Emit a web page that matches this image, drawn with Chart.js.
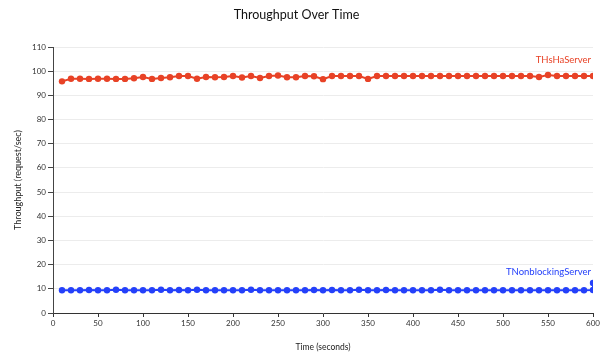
<!DOCTYPE html>
<html>
<head>
<meta charset="utf-8">
<script src="https://cdn.jsdelivr.net/npm/chart.js@4/dist/chart.umd.min.js"></script>
<style>
html,body{margin:0;padding:0;background:#fff;}
#c{display:block;}
</style>
</head>
<body>
<canvas id="c" width="604" height="357"></canvas>
<script>
const times = [10,20,30,40,50,60,70,80,90,100,110,120,130,140,150,160,170,180,190,200,
  210,220,230,240,250,260,270,280,290,300,310,320,330,340,350,360,370,380,390,400,
  410,420,430,440,450,460,470,480,490,500,510,520,530,540,550,560,570,580,590,600];
const hshaValues = [95.8,96.9,96.9,96.8,96.9,96.9,96.8,96.8,97.1,97.6,96.8,97.2,97.5,98.0,98.0,96.9,97.6,97.5,97.6,98.0,
  97.4,98.0,97.2,98.0,98.2,97.5,97.5,98.0,97.9,96.7,98.0,98.0,98.0,98.0,96.8,98.0,98.0,98.0,98.0,98.0,
  98.0,98.0,98.0,98.0,98.0,98.0,98.0,98.0,98.0,98.0,98.0,98.0,98.0,97.6,98.4,98.0,98.0,98.0,98.0,98.0];
const nonblockingTimes = [...times, 600];
const nonblockingValues = [9.4,9.4,9.4,9.5,9.4,9.4,9.6,9.4,9.4,9.4,9.4,9.6,9.4,9.5,9.4,9.6,9.4,9.4,9.4,9.4,
  9.4,9.6,9.4,9.4,9.4,9.4,9.4,9.4,9.5,9.4,9.5,9.4,9.4,9.6,9.4,9.4,9.5,9.4,9.4,9.4,
  9.4,9.4,9.6,9.4,9.4,9.4,9.4,9.4,9.4,9.4,9.4,9.4,9.4,9.4,9.4,9.4,9.4,9.4,9.4,9.5,12.4];
const seriesNames = ['THsHaServer','TNonblockingServer'];
const xTicksMax = 600, xStep = 50, yMax = 110, yStep = 10;

const RED = 'rgb(232,66,38)';
const BLUE = 'rgb(36,64,250)';
const FONT = 'Lato, "Liberation Sans", sans-serif';

const seriesLabelPlugin = {
  id: 'seriesLabel',
  afterDatasetsDraw(chart) {
    const ctx = chart.ctx;
    const area = chart.chartArea;
    const offsets = [-16, -18];
    chart.data.datasets.forEach((ds, i) => {
      const meta = chart.getDatasetMeta(i);
      const p = meta.data[times.length - 1];
      ctx.save();
      ctx.font = '9.5px ' + FONT;
      ctx.fillStyle = ds.borderColor;
      ctx.textAlign = 'right';
      ctx.textBaseline = 'middle';
      ctx.fillText(ds.label, area.right - 2, p.y + offsets[i]);
      ctx.restore();
    });
  }
};

new Chart(document.getElementById('c'), {
  type: 'line',
  data: {
    datasets: [
      {
        label: seriesNames[0],
        data: times.map((t, i) => ({x: t, y: hshaValues[i]})),
        borderColor: RED, backgroundColor: RED,
        borderWidth: 2, pointRadius: 3.2, pointBorderWidth: 0, tension: 0
      },
      {
        label: seriesNames[1],
        data: nonblockingTimes.map((t, i) => ({x: t, y: nonblockingValues[i]})),
        borderColor: BLUE, backgroundColor: BLUE,
        borderWidth: 2, pointRadius: 3.2, pointBorderWidth: 0, tension: 0
      }
    ]
  },
  options: {
    responsive: false,
    animation: false,
    layout: {padding: {left: 0, right: 11, top: 0, bottom: 0}},
    plugins: {
      legend: {display: false},
      tooltip: {enabled: false},
      title: {
        display: true,
        text: 'Throughput Over Time',
        color: '#111',
        font: {family: FONT, size: 12.5, weight: 'normal'},
        padding: {top: 7, bottom: 25}
      }
    },
    scales: {
      x: {
        type: 'linear', min: 0, max: xTicksMax,
        ticks: {stepSize: xStep, color: '#333', font: {family: FONT, size: 8}, padding: 2, maxRotation: 0},
        grid: {drawOnChartArea: false, tickLength: 4, tickColor: '#333'},
        border: {color: '#333', width: 1},
        title: {display: true, text: 'Time (seconds)', color: '#222', font: {family: FONT, size: 8.5}, padding: {top: 4, bottom: 5}},
        afterFit(s) { s.height = 44; }
      },
      y: {
        min: 0, max: yMax,
        ticks: {stepSize: yStep, color: '#333', font: {family: FONT, size: 8}, padding: 2},
        grid: {color: '#ececec', tickLength: 5, tickColor: '#444'},
        border: {color: '#444', width: 1},
        title: {display: true, text: 'Throughput (request/sec)', color: '#222', font: {family: FONT, size: 9}, padding: {top: 13, bottom: 4}},
        afterFit(s) { s.width = 53; }
      }
    }
  },
  plugins: [seriesLabelPlugin]
});
</script>
</body>
</html>
